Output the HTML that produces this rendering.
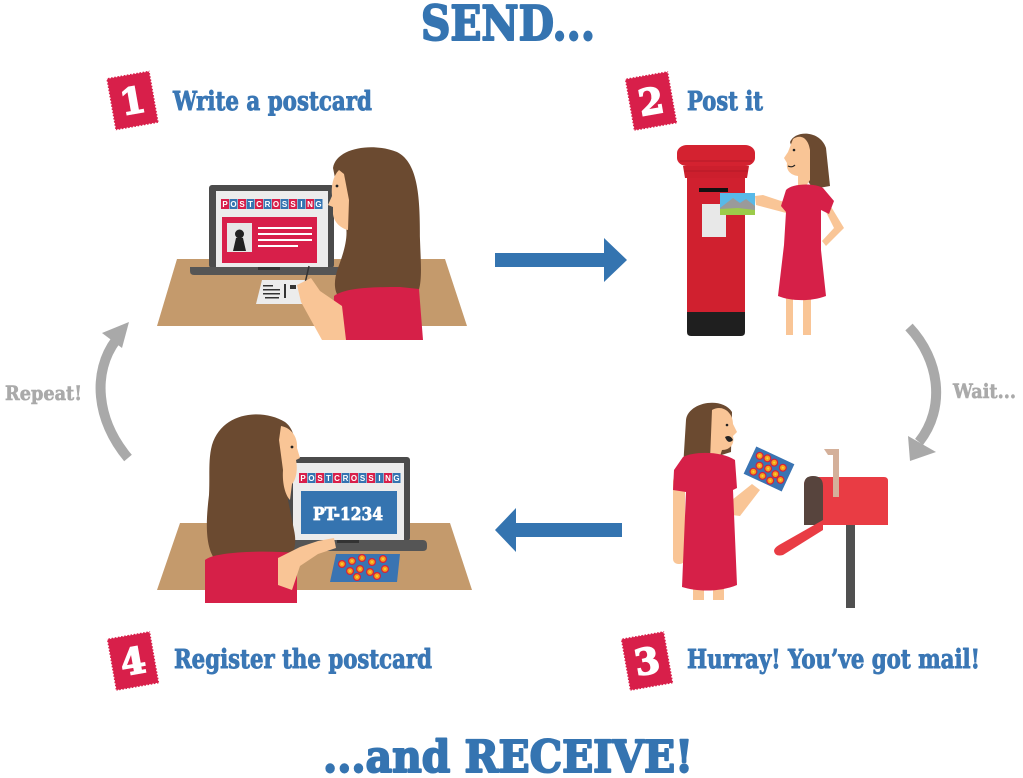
<!DOCTYPE html>
<html><head><meta charset="utf-8"><style>
html,body{margin:0;padding:0;background:#fff;}
svg{display:block;}
.slab{font-family:"DejaVu Serif","Liberation Serif",serif;font-weight:bold;}
</style></head><body>
<svg width="1023" height="778" viewBox="0 0 1023 778" xmlns="http://www.w3.org/2000/svg">
<defs>
<g id="flower"><circle r="3.4" fill="#f6a21c" stroke="#d8203a" stroke-width="1.2"/><circle r="1" fill="#f9d23a"/></g>
</defs>

<!-- Titles -->
<text class="slab" x="421" y="40" font-size="48" fill="#3574b1" stroke="#3574b1" stroke-width="2" stroke-linejoin="round" textLength="174" lengthAdjust="spacingAndGlyphs">SEND...</text>
<text class="slab" x="323" y="772" font-size="44" fill="#3574b1" stroke="#3574b1" stroke-width="2" stroke-linejoin="round" textLength="370" lengthAdjust="spacingAndGlyphs">...and RECEIVE!</text>

<!-- Stamps -->
<g transform="translate(132.5,100.5) rotate(-10)">
<rect x="-22" y="-26.5" width="44" height="53" fill="#d81f4a" stroke="#fff" stroke-width="1.6" stroke-dasharray="1.6 1.6"/>
<text class="slab" x="0" y="13" font-size="36" fill="#fff" stroke="#fff" stroke-width="1.5" text-anchor="middle">1</text></g>
<g transform="translate(651,101) rotate(-10)">
<rect x="-22" y="-26.5" width="44" height="53" fill="#d81f4a" stroke="#fff" stroke-width="1.6" stroke-dasharray="1.6 1.6"/>
<text class="slab" x="0" y="13" font-size="36" fill="#fff" stroke="#fff" stroke-width="1.5" text-anchor="middle">2</text></g>
<g transform="translate(647,661) rotate(-10)">
<rect x="-22" y="-26.5" width="44" height="53" fill="#d81f4a" stroke="#fff" stroke-width="1.6" stroke-dasharray="1.6 1.6"/>
<text class="slab" x="0" y="13" font-size="36" fill="#fff" stroke="#fff" stroke-width="1.5" text-anchor="middle">3</text></g>
<g transform="translate(133,661) rotate(-10)">
<rect x="-22" y="-26.5" width="44" height="53" fill="#d81f4a" stroke="#fff" stroke-width="1.6" stroke-dasharray="1.6 1.6"/>
<text class="slab" x="0" y="13" font-size="36" fill="#fff" stroke="#fff" stroke-width="1.5" text-anchor="middle">4</text></g>

<!-- Step labels -->
<g stroke="#3a77b5" stroke-width="0.9" stroke-linejoin="round">
<text class="slab" x="173" y="110" font-size="26" fill="#3a77b5" textLength="199" lengthAdjust="spacingAndGlyphs">Write a postcard</text>
<text class="slab" x="687" y="110" font-size="26" fill="#3a77b5" textLength="76" lengthAdjust="spacingAndGlyphs">Post it</text>
<text class="slab" x="687" y="668" font-size="26" fill="#3a77b5" textLength="293" lengthAdjust="spacingAndGlyphs">Hurray! You’ve got mail!</text>
<text class="slab" x="174" y="668" font-size="26" fill="#3a77b5" textLength="258" lengthAdjust="spacingAndGlyphs">Register the postcard</text>
</g>
<g stroke="#aaaaaa" stroke-width="0.6">
<text class="slab" x="5" y="400" font-size="20" fill="#aaaaaa" textLength="77" lengthAdjust="spacingAndGlyphs">Repeat!</text>
<text class="slab" x="953" y="398" font-size="20" fill="#aaaaaa" textLength="63" lengthAdjust="spacingAndGlyphs">Wait...</text>
</g>

<!-- Blue arrows -->
<polygon points="495,253 604,253 604,238 627,260 604,282 604,267 495,267" fill="#3474b0"/>
<polygon points="622,523 516,523 516,508 495,530 516,552 516,537 622,537" fill="#3474b0"/>

<!-- Gray arrows -->
<path d="M128,458 C96,420 92,372 116,340" fill="none" stroke="#a9a9a9" stroke-width="10"/>
<polygon points="102,333 129,322 122,348" fill="#a9a9a9"/>
<path d="M909,327 C940,360 946,408 919,442" fill="none" stroke="#a9a9a9" stroke-width="10"/>
<polygon points="908,436 936,452 910,461" fill="#a9a9a9"/>

<!-- ===== Scene 1 ===== -->
<polygon points="177,259 445,259 467,326 157,326" fill="#c49a6c"/>
<rect x="209" y="185" width="125" height="83" rx="3" fill="#4b4b4b"/>
<rect x="216" y="191" width="112" height="77" fill="#ececec"/>
<g font-family="Liberation Sans,sans-serif" font-weight="bold" font-size="8" fill="#fff" text-anchor="middle">
<rect x="221" y="199" width="8" height="10" fill="#d81f4a"/><text x="225" y="207">P</text>
<rect x="229.5" y="199" width="8" height="10" fill="#3574b1"/><text x="233.5" y="207">O</text>
<rect x="238" y="199" width="8" height="10" fill="#d81f4a"/><text x="242" y="207">S</text>
<rect x="246.5" y="199" width="8" height="10" fill="#3574b1"/><text x="250.5" y="207">T</text>
<rect x="255" y="199" width="8" height="10" fill="#d81f4a"/><text x="259" y="207">C</text>
<rect x="263.5" y="199" width="8" height="10" fill="#3574b1"/><text x="267.5" y="207">R</text>
<rect x="272" y="199" width="8" height="10" fill="#d81f4a"/><text x="276" y="207">O</text>
<rect x="280.5" y="199" width="8" height="10" fill="#3574b1"/><text x="284.5" y="207">S</text>
<rect x="289" y="199" width="8" height="10" fill="#d81f4a"/><text x="293" y="207">S</text>
<rect x="297.5" y="199" width="8" height="10" fill="#3574b1"/><text x="301.5" y="207">I</text>
<rect x="306" y="199" width="8" height="10" fill="#d81f4a"/><text x="310" y="207">N</text>
<rect x="314.5" y="199" width="8" height="10" fill="#3574b1"/><text x="318.5" y="207">G</text>
</g>
<rect x="222" y="217" width="95" height="46" fill="#d81f4a"/>
<rect x="227" y="223" width="25" height="29" fill="#e6e6e6"/>
<circle cx="239.5" cy="234" r="4.5" fill="#222"/>
<polygon points="233,251 246,251 243,238 236,238" fill="#222"/>
<g fill="#fff"><rect x="258" y="227" width="54" height="2"/><rect x="258" y="233" width="54" height="2"/><rect x="258" y="239" width="54" height="2"/><rect x="258" y="245" width="40" height="2"/></g>
<path d="M190,267 L340,267 L340,275 L194,275 Q190,275 190,271 Z" fill="#555"/>
<rect x="258" y="267" width="22" height="3" fill="#333"/>
<polygon points="262,280 309,280 307,304 256,304" fill="#ececec"/>
<g fill="#333"><rect x="263" y="285" width="10" height="1.5"/><rect x="263" y="289" width="17" height="1.5"/><rect x="263" y="293" width="17" height="1.5"/><rect x="265" y="297" width="14" height="1.5"/><rect x="284" y="284" width="2" height="14"/><rect x="290" y="285" width="6" height="4"/></g>
<line x1="309" y1="266" x2="303" y2="292" stroke="#333" stroke-width="1.5"/>
<!-- woman 1 -->
<path d="M333,168 C336,148 372,142 397,152 C419,163 420,200 420,240 C421,270 424,295 410,302 L350,304 C334,300 332,285 338,268 C344,252 348,238 346,226 L342,212 Z" fill="#6b4a30"/>
<path d="M339,170 C333,176 331,186 332,196 L328,205 L333,207 L333,214 C334,222 340,228 348,230 L349,200 L344,174 Z" fill="#f9c596"/>
<circle cx="337" cy="186" r="1.4" fill="#222"/>
<path d="M334,296 C345,288 370,287 400,287 L419,289 L423,340 L333,340 Z" fill="#d62048"/>
<polygon points="297,285 311,278 320,291 342,306 346,340 322,340 301,302" fill="#f9c596"/>

<!-- ===== Scene 2 ===== -->
<rect x="687" y="175" width="58" height="140" fill="#d0202f"/>
<path d="M683,166 L749,166 L747,178 L685,178 Z" fill="#cc1f2d"/>
<line x1="684" y1="171" x2="748" y2="171" stroke="#b51a27" stroke-width="1"/>
<rect x="677" y="145" width="78" height="21" rx="10" ry="8" fill="#d42230"/>
<line x1="680" y1="161" x2="752" y2="161" stroke="#b51a27" stroke-width="1"/>
<path d="M687,312 L745,312 L745,332 Q745,336 741,336 L691,336 Q687,336 687,332 Z" fill="#1f1f1f"/>
<rect x="699" y="188" width="29" height="4" fill="#111"/>
<rect x="702" y="204" width="24" height="33" fill="#e8e8e8"/>
<rect x="720" y="193" width="35" height="22" fill="#58b9e8"/>
<polygon points="720,208 733,198 740,203 746,199 755,206 755,215 720,215" fill="#9a9a9a"/>
<polygon points="720,209 738,208 755,210 755,215 720,215" fill="#9ccb4a"/>
<!-- woman 2 -->
<path d="M790,142 C795,130 820,130 826,148 L830,186 L813,189 L806,178 L796,160 Z" fill="#6b4a30"/>
<path d="M793,139 C800,134 808,137 810,150 L810,180 L806,186 L798,186 L798,176 C790,175 786,170 787,163 L784,158 L788,152 Z" fill="#f9c596"/>
<circle cx="794" cy="150" r="1.3" fill="#222"/>
<path d="M788,166 Q792,168 795,165" stroke="#222" stroke-width="1.2" fill="none"/>
<polygon points="756,205 755,196 763,195 790,204 790,214" fill="#f9c596"/>
<polygon points="830,205 844,228 826,246 822,241 834,228 826,212" fill="#f9c596"/>
<rect x="786" y="295" width="7" height="40" fill="#f9c596"/>
<rect x="803" y="295" width="8" height="40" fill="#f9c596"/>
<path d="M786,190 C792,183 815,183 823,188 L834,201 L829,214 L821,210 L821,250 L826,296 C810,302 790,301 778,296 L784,245 L786,212 L781,206 Z" fill="#d62048"/>

<!-- ===== Scene 3 ===== -->
<path d="M686,420 C688,402 722,396 732,412 L731,452 L712,458 L692,470 L683,468 Z" fill="#6b4a30"/>
<path d="M712,410 C722,404 733,412 733,424 L737,432 L733,436 C735,444 730,450 722,450 L718,462 L710,460 Z" fill="#f9c596"/>
<circle cx="727" cy="425" r="1.3" fill="#222"/>
<path d="M725,437 Q730,434 733,440 Q728,445 725,437 Z" fill="#222"/>
<rect x="673" y="476" width="12" height="88" rx="5" fill="#f9c596"/>
<polygon points="732,500 752,484 760,490 740,516 732,515" fill="#f9c596"/>
<rect x="693" y="583" width="11" height="17" fill="#f9c596"/>
<rect x="713" y="583" width="11" height="17" fill="#f9c596"/>
<path d="M683,457 C694,451 722,451 735,460 L737,488 L733,490 L737,585 C720,592 698,592 682,587 L686,492 L673,490 L674,470 Z" fill="#d62048"/>
<g transform="translate(769,469) rotate(25)">
<rect x="-21" y="-15" width="42" height="30" fill="#3a74b3"/>
<use href="#flower" x="-14" y="-8"/><use href="#flower" x="-6" y="-9"/><use href="#flower" x="2" y="-8"/><use href="#flower" x="12" y="-7"/>
<use href="#flower" x="-10" y="1"/><use href="#flower" x="-1" y="0"/><use href="#flower" x="8" y="2"/>
<use href="#flower" x="-13" y="9"/><use href="#flower" x="-3" y="9"/><use href="#flower" x="6" y="10"/><use href="#flower" x="15" y="5"/>
</g>
<!-- mailbox -->
<rect x="846" y="522" width="9" height="86" fill="#505050"/>
<path d="M812,477 L884,477 Q888,477 888,481 L888,525 L804,525 L804,485 Q804,477 812,477 Z" fill="#e93c44"/>
<path d="M804,485 Q804,476 813,476 Q823,476 823,486 L823,525 L804,525 Z" fill="#57443d"/>
<path d="M823,520 L823,530 L783,555 Q775,557 774,551 Q774,548 779,545 Z" fill="#e93c44"/>
<rect x="833" y="449" width="6" height="48" fill="#d4b09a"/>
<polygon points="824,449 839,449 839,455 828,455" fill="#d4b09a"/>

<!-- ===== Scene 4 ===== -->
<polygon points="180,523 450,523 472,590 157,590" fill="#c49a6c"/>
<rect x="287" y="457" width="123" height="84" rx="3" fill="#4b4b4b"/>
<rect x="293" y="463" width="111" height="77" fill="#ececec"/>
<g font-family="Liberation Sans,sans-serif" font-weight="bold" font-size="8" fill="#fff" text-anchor="middle">
<rect x="299" y="473" width="8" height="10" fill="#d81f4a"/><text x="303" y="481">P</text>
<rect x="307.5" y="473" width="8" height="10" fill="#3574b1"/><text x="311.5" y="481">O</text>
<rect x="316" y="473" width="8" height="10" fill="#d81f4a"/><text x="320" y="481">S</text>
<rect x="324.5" y="473" width="8" height="10" fill="#3574b1"/><text x="328.5" y="481">T</text>
<rect x="333" y="473" width="8" height="10" fill="#d81f4a"/><text x="337" y="481">C</text>
<rect x="341.5" y="473" width="8" height="10" fill="#3574b1"/><text x="345.5" y="481">R</text>
<rect x="350" y="473" width="8" height="10" fill="#d81f4a"/><text x="354" y="481">O</text>
<rect x="358.5" y="473" width="8" height="10" fill="#3574b1"/><text x="362.5" y="481">S</text>
<rect x="367" y="473" width="8" height="10" fill="#d81f4a"/><text x="371" y="481">S</text>
<rect x="375.5" y="473" width="8" height="10" fill="#3574b1"/><text x="379.5" y="481">I</text>
<rect x="384" y="473" width="8" height="10" fill="#d81f4a"/><text x="388" y="481">N</text>
<rect x="392.5" y="473" width="8" height="10" fill="#3574b1"/><text x="396.5" y="481">G</text>
</g>
<rect x="301" y="491" width="96" height="43" fill="#3574b0"/>
<text class="slab" x="313" y="520" font-size="18" fill="#fff" stroke="#fff" stroke-width="0.8" textLength="70" lengthAdjust="spacingAndGlyphs">PT-1234</text>
<path d="M293,540 L423,540 Q427,540 427,545 L427,547 Q427,551 423,551 L293,551 Z" fill="#555"/>
<rect x="337" y="540" width="22" height="3" fill="#333"/>
<polygon points="336,554 400,554 397,582 330,582" fill="#3a74b2"/>
<use href="#flower" x="342" y="564"/><use href="#flower" x="352" y="561"/><use href="#flower" x="362" y="558"/><use href="#flower" x="372" y="562"/><use href="#flower" x="383" y="559"/>
<use href="#flower" x="350" y="571"/><use href="#flower" x="360" y="569"/><use href="#flower" x="370" y="572"/><use href="#flower" x="385" y="569"/><use href="#flower" x="377" y="576"/><use href="#flower" x="357" y="577"/>
<!-- woman 4 -->
<path d="M212,445 C222,412 262,408 285,422 C296,430 298,450 294,470 L288,500 L294,530 C298,548 292,560 280,563 L218,563 C204,550 206,520 209,495 C210,475 208,460 212,445 Z" fill="#6b4a30"/>
<path d="M281,426 C292,428 298,438 297,448 L300,458 L296,460 C298,470 296,480 292,484 L290,500 C286,496 282,485 283,470 L279,440 Z" fill="#f9c596"/>
<circle cx="292" cy="447" r="1.4" fill="#222"/>
<path d="M205,560 C214,552 260,550 297,553 L297,603 L205,603 Z" fill="#d62048"/>
<polygon points="278,558 300,547 318,541 334,538 336,548 318,554 300,566 292,590 278,585" fill="#f9c596"/>
</svg>
</body></html>
